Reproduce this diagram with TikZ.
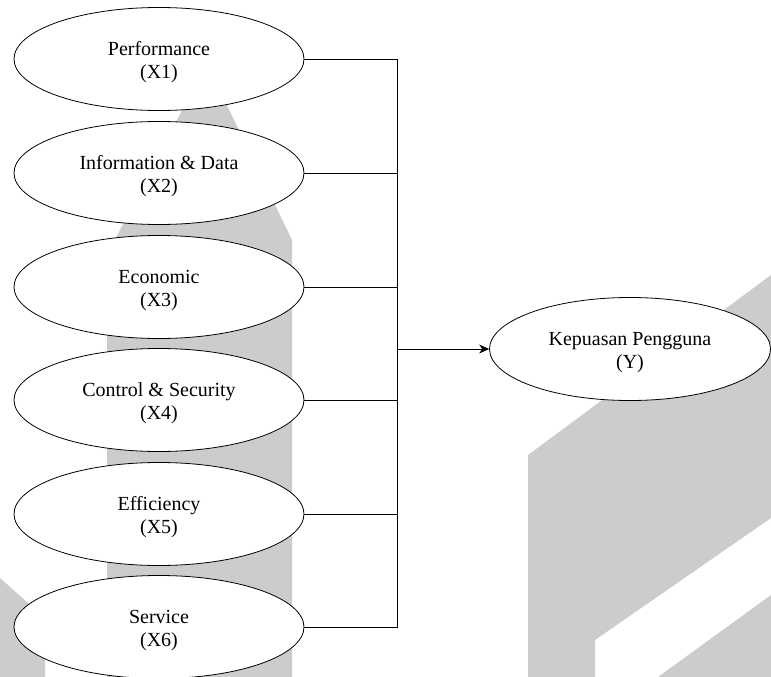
\documentclass[tikz,border=0pt]{standalone}
\usepackage{fontspec}
\setmainfont{Liberation Serif}
\usetikzlibrary{shapes.geometric,arrows.meta}
\definecolor{wmgray}{RGB}{204,204,204}

\begin{document}
\begin{tikzpicture}[x=1pt,y=-1pt,line width=.8pt,
        var/.style={draw,ellipse,fill=white,minimum width=290pt,minimum height=103pt,
            inner sep=0pt,align=center,text height=43pt,font=\fontsize{20}{23}\selectfont},
        mark area/.style={fill=wmgray,draw=none}]
        \useasboundingbox (0,0) rectangle (771,677);
        % watermark in the back
        \fill[mark area] (107,677) -- (107,255) -- (190,95) -- (222,95) -- (292,240) -- (292,677) -- cycle;
        \fill[mark area] (0,578) -- (45,618) -- (45,677) -- (0,677) -- cycle;
        \fill[mark area] (528,677) -- (528,455) -- (771,275) -- (771,518) -- (595,640) -- (595,677) -- cycle;
        \fill[mark area] (658,677) -- (771,595) -- (771,677) -- cycle;
        % variables
        \node[var] (x1) at (159,59) {Performance\\(X1)};
        \node[var] (x2) at (159,173) {Information \& Data\\(X2)};
        \node[var] (x3) at (159,287) {Economic\\(X3)};
        \node[var] (x4) at (159,400) {Control \& Security\\(X4)};
        \node[var] (x5) at (159,514) {Efficiency\\(X5)};
        \node[var] (x6) at (159,627) {Service\\(X6)};
        \node[var,minimum width=281pt] (y) at (630,349) {Kepuasan Pengguna\\(Y)};
        \coordinate (bus) at (397,349);
        % connectors
        \draw (x1.east) -- (x1.east -| bus) -- (x6.east -| bus) -- (x6.east);
        \draw (x2.east) -- (x2.east -| bus);
        \draw (x3.east) -- (x3.east -| bus);
        \draw (x4.east) -- (x4.east -| bus);
        \draw (x5.east) -- (x5.east -| bus);
        \draw[-{Stealth[length=10pt,width=9pt]}] (bus) -- (y.west);
    \end{tikzpicture}
\end{document}
